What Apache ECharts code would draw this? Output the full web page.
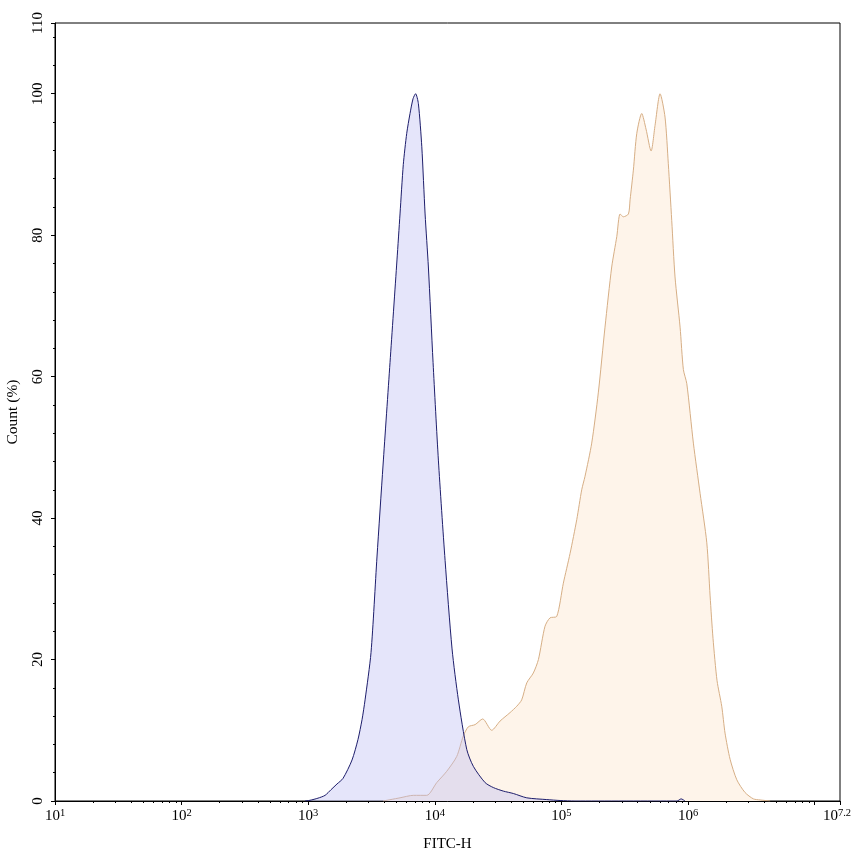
<!DOCTYPE html>
<html>
<head>
<meta charset="utf-8">
<script src="https://cdn.jsdelivr.net/npm/echarts@6/dist/echarts.min.js"></script>
<style>
html,body{margin:0;padding:0;background:#fff;}
#chart{width:853px;height:856px;}
</style>
</head>
<body>
<div id="chart"></div>
<script>
// X positions are log10(FITC-H) exponents
var blueExp = [2.975, 3.014, 3.077, 3.133, 3.180, 3.227, 3.275, 3.346, 3.393, 3.425, 3.449, 3.496, 3.543, 3.591, 3.646, 3.701, 3.725, 3.751, 3.778, 3.804, 3.828, 3.848, 3.870, 3.897, 3.923, 3.949, 3.986, 4.028, 4.081, 4.136, 4.186, 4.252, 4.304, 4.397, 4.462, 4.541, 4.620, 4.726, 4.884, 4.989, 5.107, 5.913, 5.945, 5.976];
var blueCount = [0, 0.1, 0.4, 0.8, 1.6, 2.4, 3.2, 5.8, 8.7, 11.5, 14.3, 21, 34.5, 47.5, 62, 76.5, 83, 90, 94.4, 97.2, 99.3, 100, 98.6, 92.5, 83, 75.5, 62, 48.2, 34, 21.5, 14.3, 7.3, 4.9, 2.6, 1.9, 1.4, 1.06, 0.45, 0.2, 0.07, 0, 0, 0.3, 0];

var orangeExp = [3.591, 3.725, 3.830, 3.936, 4.015, 4.094, 4.173, 4.225, 4.265, 4.318, 4.378, 4.449, 4.515, 4.594, 4.647, 4.686, 4.726, 4.778, 4.818, 4.870, 4.910, 4.963, 5.015, 5.068, 5.121, 5.160, 5.186, 5.239, 5.291, 5.344, 5.397, 5.437, 5.463, 5.489, 5.529, 5.542, 5.568, 5.595, 5.634, 5.668, 5.708, 5.739, 5.779, 5.818, 5.844, 5.871, 5.897, 5.937, 5.963, 5.990, 6.042, 6.095, 6.148, 6.174, 6.197, 6.229, 6.266, 6.292, 6.332, 6.385, 6.450, 6.516, 6.569, 6.648];
var orangeCount = [0, 0.45, 0.8, 0.8, 2.6, 4.2, 6.3, 9.2, 10.5, 10.8, 11.6, 10, 11.3, 12.5, 13.4, 14.3, 16.7, 18.1, 20, 24.7, 25.9, 26.1, 30.8, 35, 39.8, 44, 45.9, 50.6, 57.7, 67, 75.5, 79.8, 83, 82.6, 83, 85, 89.2, 94.4, 97.2, 95, 91.9, 95.5, 100, 96.7, 90.1, 82.1, 74.1, 67, 61, 59, 50.6, 43.5, 36.5, 29, 23, 17, 13.4, 9.6, 5.9, 3.0, 1.2, 0.3, 0.15, 0];

var xTickExps = [1, 2, 3, 4, 5, 6, 7, 7.2];
var xLabelExps = [1, 2, 3, 4, 5, 6, 7.2];
var yTicks = [0, 20, 40, 60, 80, 100, 110];
var yMinorStep = 4;

function zip(xs, ys) { return xs.map(function (x, i) { return [x, ys[i]]; }); }

var xMinor = [];
for (var d = 1; d < 8; d++) {
  for (var k = 2; k <= 9; k++) {
    var v = d + Math.log10(k);
    if (v < 7.2) xMinor.push(v);
  }
}
var yMinor = [];
for (var m = yMinorStep; m < 110; m += yMinorStep) {
  if (yTicks.indexOf(m) < 0) yMinor.push(m);
}

var serif = '"Liberation Serif", "DejaVu Serif", serif';

var chart = echarts.init(document.getElementById('chart'));
chart.setOption({
  animation: false,
  backgroundColor: '#fff',
  grid: { left: 55, right: 13, top: 23, bottom: 55, containLabel: false, outerBoundsMode: 'none', show: true, borderColor: '#000', borderWidth: 1, backgroundColor: 'transparent' },
  xAxis: [{
    type: 'value', min: 1, max: 7.2,
    name: 'FITC-H', nameLocation: 'middle', nameGap: 36,
    nameTextStyle: { fontFamily: serif, fontSize: 15, color: '#000' },
    axisLine: { show: true, onZero: false, lineStyle: { color: '#000', width: 1 } },
    axisTick: { show: true, length: 4, lineStyle: { color: '#000' }, customValues: xTickExps },
    axisLabel: {
      customValues: xLabelExps, margin: 7, color: '#000', fontFamily: serif,
      formatter: function (v) {
        var e = (Math.round(v * 10) / 10).toString();
        return e === '7.2' ? '{b|10}{se|' + e + '}' : '{b|10}{s|' + e + '}';
      },
      rich: {
        b: { fontFamily: serif, fontSize: 15, lineHeight: 17, color: '#000' },
        s: { fontFamily: serif, fontSize: 10.5, lineHeight: 11, verticalAlign: 'top', color: '#000' },
        se: { fontFamily: serif, fontSize: 10.5, lineHeight: 11, verticalAlign: 'top', color: '#000', padding: [0, 6, 0, 0] }
      }
    },
    splitLine: { show: false }
  }, {
    type: 'value', min: 1, max: 7.2, position: 'bottom', gridIndex: 0,
    axisLine: { show: false, onZero: false },
    axisTick: { show: true, length: 2, lineStyle: { color: '#000' }, customValues: xMinor },
    axisLabel: { show: false },
    splitLine: { show: false }
  }],
  yAxis: [{
    type: 'value', min: 0, max: 110,
    name: 'Count (%)', nameLocation: 'middle', nameGap: 34, nameRotate: 90,
    nameTextStyle: { fontFamily: serif, fontSize: 15.5, color: '#000' },
    axisLine: { show: true, onZero: false, lineStyle: { color: '#000', width: 1 } },
    axisTick: { show: true, length: 4, lineStyle: { color: '#000' }, customValues: yTicks },
    axisLabel: { customValues: yTicks, rotate: 90, margin: 9, fontFamily: serif, fontSize: 15, color: '#000' },
    splitLine: { show: false }
  }, {
    type: 'value', min: 0, max: 110, position: 'left',
    axisLine: { show: false, onZero: false },
    axisTick: { show: true, length: 2, lineStyle: { color: '#000' }, customValues: yMinor },
    axisLabel: { show: false },
    splitLine: { show: false }
  }],
  series: [{
    name: 'orange', type: 'line', xAxisIndex: 0, yAxisIndex: 0,
    data: zip(orangeExp, orangeCount),
    showSymbol: false, smooth: 0.25,
    lineStyle: { color: '#d6ae85', width: 1 },
    areaStyle: { color: '#fef4ea', opacity: 1 },
    z: 2
  }, {
    name: 'blue', type: 'line', xAxisIndex: 0, yAxisIndex: 0,
    data: zip(blueExp, blueCount),
    showSymbol: false, smooth: 0.25,
    lineStyle: { color: '#1d1d6b', width: 1 },
    areaStyle: { color: 'rgba(190,190,242,0.4)', opacity: 1 },
    z: 3
  }]
});
</script>
</body>
</html>
